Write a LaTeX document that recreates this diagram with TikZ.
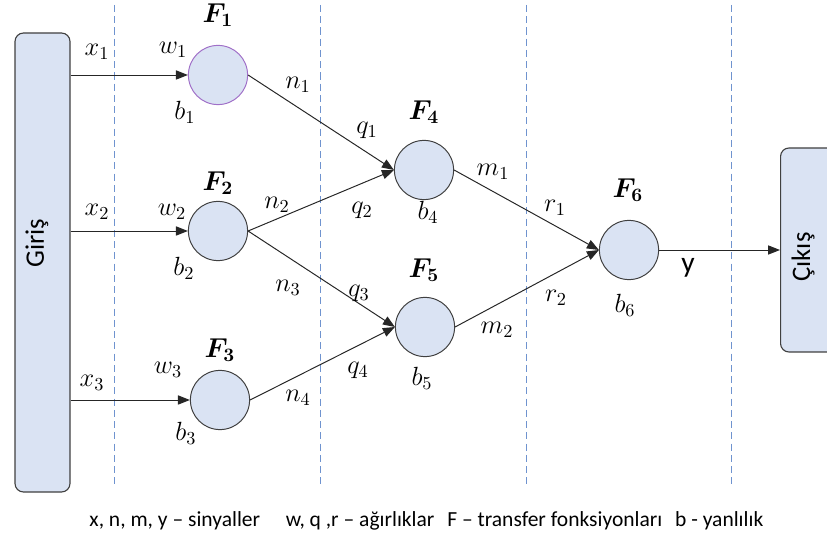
\documentclass[tikz,border=0pt]{standalone}
\usepackage{fontspec}
\setmainfont{Carlito}
\usetikzlibrary{arrows.meta}

\definecolor{acikmavi}{HTML}{DAE3F3}
\definecolor{kenar}{HTML}{404040}
\definecolor{kesik}{HTML}{6F93CF}
\definecolor{mor}{HTML}{A070C8}

\begin{document}
\begin{tikzpicture}[
        >={Triangle[length=3mm,width=2.3mm]},
        kutu/.style={draw=kenar, fill=acikmavi, rounded corners=6pt, line width=0.8pt},
        noron/.style={circle, draw=kenar, fill=acikmavi, minimum size=1.48cm, inner sep=0pt, line width=0.7pt},
        ayrac/.style={draw=kesik, dashed, dash pattern=on 5pt off 3pt, line width=0.7pt},
        ok/.style={->, draw=black!85, line width=0.7pt},
        etiket/.style={font=\Large, scale=1.3},
        fetiket/.style={font=\Large\boldmath, scale=1.35},
        yazi/.style={font=\fontsize{19}{22}\selectfont},
    ]

    \useasboundingbox (0,0) rectangle (20.675,13.425);

    % Katmanlar arasındaki kesikli ayraçlar
    \foreach \x in {2.85, 8.0, 13.15, 18.275} {
        \draw[ayrac] (\x,13.3) -- (\x,1.3);
    }

    % Giriş kutusu
    \node[kutu, minimum width=1.375cm, minimum height=11.475cm] (giris) at (1.0625,6.8625) {};
    \node[yazi, rotate=90] (giris-yazi) at (0.925,7.35) {Giriş};

    % Çıkış kutusu (sağ kenarda kesiliyor)
    \begin{scope}
        \clip (0,0) rectangle (20.675,13.425);
        \node[kutu, minimum width=1.6cm, minimum height=5.1cm, anchor=west] (cikis) at (19.5,7.175) {};
    \end{scope}
    \node[yazi, rotate=90] (cikis-yazi) at (20.075,7.0) {Çıkış};

    % Nöronlar: ad / x / y / kenar rengi
    \foreach \ad/\x/\y/\renk in {f1/5.45/11.55/mor, f2/5.45/7.65/kenar, f3/5.5/3.425/kenar,
                                 f4/10.6/9.175/kenar, f5/10.625/5.25/kenar, f6/15.725/7.175/kenar} {
        \node[noron, draw=\renk] (\ad) at (\x,\y) {};
    }

    % Girişten nöronlara okla
    \foreach \n in {1,2,3} {
        \draw[ok] (giris.east |- f\n) -- (f\n.west);
    }

    % Nöronlar arası bağlantılar
    \foreach \a/\b in {f1/f4, f2/f4, f2/f5, f3/f5, f4/f6, f5/f6} {
        \draw[ok] (\a.east) -- (\b.west);
    }
    \draw[ok] (f6.east) -- (f6.east -| cikis.west);

    % Transfer fonksiyonu etiketleri
    \foreach \i/\x/\y in {1/5.45/13.05, 2/5.45/8.85, 3/5.5/4.675, 4/10.6/10.625, 5/10.6/6.675, 6/15.7/8.675} {
        \node[fetiket] (F\i) at (\x,\y) {$F_{\i}$};
    }

    % Sinyal, ağırlık ve yanlılık etiketleri
    \foreach \x/\y/\t [count=\i] in {
        2.425/12.125/x_1, 4.325/12.175/w_1, 4.625/10.625/b_1,
        2.425/8.125/x_2, 4.3/8.125/w_2, 4.6/6.725/b_2,
        2.3/3.85/x_3, 4.2/4.175/w_3, 4.65/2.6/b_3,
        7.45/11.3/n_1, 9.175/10.175/q_1, 10.7/8.125/b_4,
        6.925/8.3/n_2, 9.05/8.175/q_2,
        7.2/6.225/n_3, 8.975/6.1/q_3, 10.55/3.975/b_5,
        8.95/4.175/q_4, 7.45/3.475/n_4,
        12.325/9.125/m_1, 13.875/8.225/r_1, 15.625/5.8/b_6,
        12.425/5.175/m_2, 13.9/5.975/r_2} {
        \node[etiket] (et\i) at (\x,\y) {$\t$};
    }
    \node[font=\fontsize{21}{24}\selectfont] (cikti) at (17.2,6.72) {y};

    % Açıklama satırı
    \node[font=\fontsize{15.3}{18}\selectfont] (aciklama) at (10.66,0.4)
        {x, n, m, y – sinyaller\hspace{1.2em}w, q ,r – ağırlıklar\hspace{0.6em}F – transfer fonksiyonları\hspace{0.6em}b - yanlılık};

\end{tikzpicture}
\end{document}
